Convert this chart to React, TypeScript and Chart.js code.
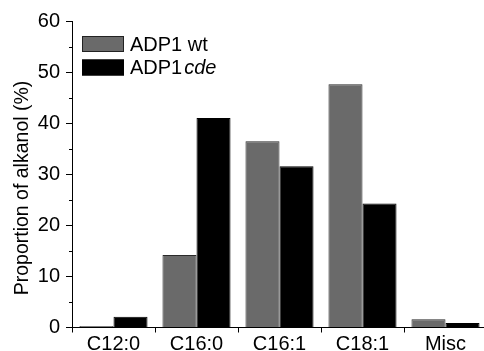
import React, { useEffect, useRef } from "react";
import { Chart, registerables } from "chart.js";

Chart.register(...registerables);

const categories = ["C12:0", "C16:0", "C16:1", "C18:1", "Misc"];
const wtValues = [0.3, 14.2, 36.5, 47.7, 1.6];
const cdeValues = [2.1, 41.1, 31.6, 24.3, 0.9];
const yTicks = [0, 10, 20, 30, 40, 50, 60];
const minorTicks = [5, 15, 25, 35, 45, 55];
const yTitle = "Proportion of alkanol (%)";
const legendWt = ["ADP1 wt", ""];
const legendCde = ["ADP1", "cde"];

const GRAY = "#6a6a6a";
const FONT = "'Liberation Sans', Arial, sans-serif";

const decorPlugin = {
  id: "decor",
  afterDraw(chart: any) {
    const ctx = chart.ctx;
    const y = chart.scales.y;
    const area = chart.chartArea;
    ctx.save();
    ctx.strokeStyle = "#000";
    ctx.lineWidth = 1;
    minorTicks.forEach((v) => {
      const py = Math.round(y.getPixelForValue(v)) + 0.5;
      ctx.beginPath();
      ctx.moveTo(area.left - 3, py);
      ctx.lineTo(area.left, py);
      ctx.stroke();
    });
    ctx.save();
    ctx.translate(27.5, 188);
    ctx.rotate(-Math.PI / 2);
    ctx.font = `19.5px ${FONT}`;
    ctx.fillStyle = "#000";
    ctx.textAlign = "center";
    ctx.textBaseline = "alphabetic";
    ctx.fillText(yTitle, 0, 0);
    ctx.restore();
    const items = [
      { fill: GRAY, border: "#222", parts: legendWt, cy: 44 },
      { fill: "#000", border: "#000", parts: legendCde, cy: 67.5 },
    ];
    items.forEach((it) => {
      ctx.fillStyle = it.fill;
      ctx.fillRect(82, it.cy - 8, 42, 16);
      ctx.strokeStyle = it.border;
      ctx.lineWidth = 1;
      ctx.strokeRect(82.5, it.cy - 7.5, 41, 15);
      ctx.fillStyle = "#000";
      ctx.textBaseline = "middle";
      ctx.textAlign = "left";
      ctx.font = `20px ${FONT}`;
      ctx.fillText(it.parts[0], 130, it.cy + 1);
      if (it.parts[1]) {
        const w = ctx.measureText(it.parts[0]).width;
        ctx.font = `italic 20px ${FONT}`;
        ctx.fillText(it.parts[1], 130 + w + 2, it.cy + 1);
      }
    });
    ctx.restore();
  },
};

export default function App() {
  const ref = useRef<HTMLCanvasElement>(null);
  useEffect(() => {
    document.body.style.margin = "0";
    const chart = new Chart(ref.current!, {
      type: "bar",
      data: {
        labels: categories,
        datasets: [
          {
            label: "ADP1 wt",
            data: wtValues,
            backgroundColor: GRAY,
            borderColor: "#2a2a2a",
            borderWidth: 1,
            borderSkipped: "bottom",
            categoryPercentage: 0.82,
            barPercentage: 1,
          },
          {
            label: "ADP1cde",
            data: cdeValues,
            backgroundColor: "#000",
            borderColor: "#000",
            borderWidth: 1,
            borderSkipped: "bottom",
            categoryPercentage: 0.82,
            barPercentage: 1,
          },
        ],
      },
      options: {
        responsive: false,
        animation: false,
        devicePixelRatio: 1,
        layout: { padding: { top: 21.5, right: 3, left: 0, bottom: 0 } },
        plugins: { legend: { display: false }, tooltip: { enabled: false } },
        scales: {
          x: {
            grid: {
              drawOnChartArea: false,
              drawTicks: true,
              tickLength: 5,
              color: "#000",
              tickColor: "#000",
            },
            border: { display: true, color: "#000", width: 1 },
            ticks: {
              color: "#000",
              font: { family: FONT, size: 20 },
              padding: 0,
              maxRotation: 0,
            },
            afterFit: (s: any) => {
              s.height = 23.5;
            },
          },
          y: {
            min: 0,
            max: 60,
            afterBuildTicks: (s: any) => {
              s.ticks = yTicks.map((v) => ({ value: v }));
            },
            grid: {
              drawOnChartArea: false,
              drawTicks: true,
              tickLength: 6,
              color: "#000",
              tickColor: "#000",
            },
            border: { display: true, color: "#000", width: 1 },
            ticks: {
              color: "#000",
              font: { family: FONT, size: 20 },
              padding: 6,
            },
            afterFit: (s: any) => {
              s.width = 72;
            },
          },
        },
      },
      plugins: [decorPlugin],
    });
    return () => chart.destroy();
  }, []);
  return (
    <div
      style={{
        position: "fixed",
        left: 0,
        top: 0,
        width: 484,
        height: 351,
        overflow: "hidden",
        background: "#fff",
      }}
    >
      <canvas ref={ref} width={490} height={351} style={{ width: 490, height: 351 }} />
    </div>
  );
}
